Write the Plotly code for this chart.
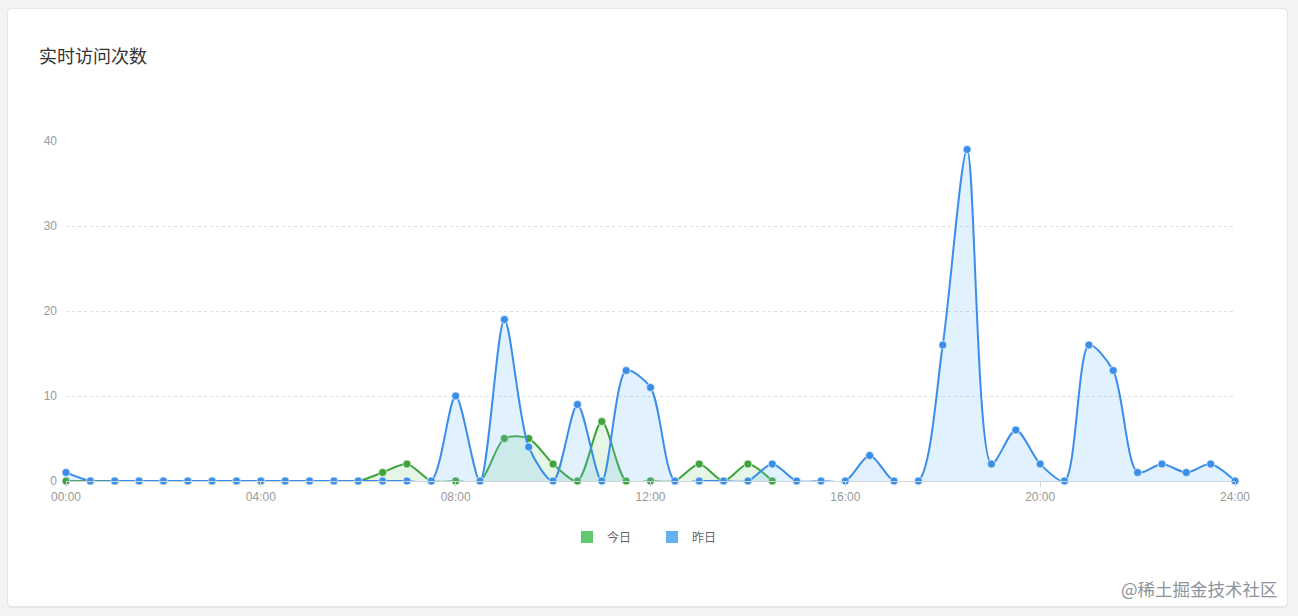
import plotly.graph_objects as go

# ---------------- data ----------------
hours = [0, 0.5, 1, 1.5, 2, 2.5, 3, 3.5, 4, 4.5, 5, 5.5, 6, 6.5, 7, 7.5,
         8, 8.5, 9, 9.5, 10, 10.5, 11, 11.5, 12, 12.5, 13, 13.5, 14, 14.5,
         15, 15.5, 16, 16.5, 17, 17.5, 18, 18.5, 19, 19.5, 20, 20.5, 21,
         21.5, 22, 22.5, 23, 23.5, 24]

today = [0, 0, 0, 0, 0, 0, 0, 0, 0, 0, 0, 0, 0, 1, 2, 0,
         0, 0, 5, 5, 2, 0, 7, 0, 0, 0, 2, 0, 2, 0]

yesterday = [1, 0, 0, 0, 0, 0, 0, 0, 0, 0, 0, 0, 0, 0, 0, 0,
             10, 0, 19, 4, 0, 9, 0, 13, 11, 0, 0, 0, 0, 2,
             0, 0, 0, 3, 0, 0, 16, 39, 2, 6, 2, 0, 16,
             13, 1, 2, 1, 2, 0]

tick_vals = [0, 4, 8, 12, 16, 20, 24]
tick_text = ["00:00", "04:00", "08:00", "12:00", "16:00", "20:00", "24:00"]
y_ticks = [0, 10, 20, 30, 40]

title_text = "实时访问次数"
legend_names = ["今日", "昨日"]
watermark = "@稀土掘金技术社区"

# ---------------- styles ----------------
FONT = "Noto Sans CJK SC, Noto Sans, sans-serif"
TICK_FONT = "Liberation Sans, Arial, sans-serif"
GREEN_LINE = "#3ea33a"
GREEN_FILL = "rgba(110,205,120,0.18)"
GREEN_LEG = "#5fc96c"
BLUE_LINE = "#3a8ee8"
BLUE_FILL = "rgba(120,190,245,0.22)"
BLUE_LEG = "#63b1f1"
PAGE_BG = "#f3f4f6"

W, H = 1298, 616
ML, MR, MT, MB = 66, 63, 141, 135
PW = W - ML - MR
PH = H - MT - MB


def px2x(px):
    return (px - ML) / PW


def py2y(py):
    return (H - MB - py) / PH


fig = go.Figure()

fig.add_trace(go.Scatter(
    x=hours[:len(today)], y=today, mode="lines+markers",
    line=dict(color=GREEN_LINE, width=2, shape="spline", smoothing=0.8),
    marker=dict(color=GREEN_LINE, size=8, line=dict(color="rgba(255,255,255,0.6)", width=1)),
    fill="tozeroy", fillcolor=GREEN_FILL, showlegend=False, cliponaxis=False,
    name=legend_names[0],
))
fig.add_trace(go.Scatter(
    x=hours, y=yesterday, mode="lines+markers",
    line=dict(color=BLUE_LINE, width=2, shape="spline", smoothing=0.8),
    marker=dict(color=BLUE_LINE, size=8, line=dict(color="rgba(255,255,255,0.6)", width=1)),
    fill="tozeroy", fillcolor=BLUE_FILL, showlegend=False, cliponaxis=False,
    name=legend_names[1],
))

# legend proxies
for nm, col in zip(legend_names, [GREEN_LEG, BLUE_LEG]):
    fig.add_trace(go.Scatter(
        x=[None], y=[None], mode="markers", name=nm,
        marker=dict(symbol="square", size=10, color=col),
    ))


def rounded(px0, py0, px1, py1, r=4):
    x0, x1 = px2x(px0), px2x(px1)
    y0, y1 = py2y(py1), py2y(py0)
    rx, ry = r / PW, r / PH
    return (
        f"M {x0+rx},{y0} L {x1-rx},{y0} Q {x1},{y0} {x1},{y0+ry} "
        f"L {x1},{y1-ry} Q {x1},{y1} {x1-rx},{y1} L {x0+rx},{y1} "
        f"Q {x0},{y1} {x0},{y1-ry} L {x0},{y0+ry} Q {x0},{y0} {x0+rx},{y0} Z"
    )


fig.add_shape(type="path", path=rounded(7, 8, 1288, 608, 5), xref="paper", yref="paper",
              fillcolor="#e4e6ea", line=dict(width=0), layer="below")
fig.add_shape(type="path", path=rounded(8, 9, 1287, 606, 4), xref="paper", yref="paper",
              fillcolor="#ffffff", line=dict(width=0), layer="below")

fig.add_annotation(text=title_text, xref="paper", yref="paper",
                   x=px2x(37), y=py2y(55), xanchor="left", yanchor="middle",
                   showarrow=False, font=dict(family=FONT, size=18, color="#333333"))
fig.add_annotation(text=watermark, xref="paper", yref="paper",
                   x=px2x(1280), y=py2y(588), xanchor="right", yanchor="middle",
                   showarrow=False, font=dict(family=FONT, size=17.5, color="#8e939b"))

fig.update_layout(
    width=W, height=H,
    margin=dict(l=ML, r=MR, t=MT, b=MB),
    paper_bgcolor=PAGE_BG,
    plot_bgcolor="rgba(0,0,0,0)",
    font=dict(family=FONT, size=12, color="#999999"),
    legend=dict(orientation="h", x=px2x(567), xanchor="left", y=py2y(537), yanchor="middle",
                font=dict(family=FONT, size=12, color="#666666"),
                itemsizing="constant", itemwidth=30, bgcolor="rgba(0,0,0,0)",
                entrywidth=40, entrywidthmode="pixels",
                tracegroupgap=0),
    xaxis=dict(range=[0, 24], tickvals=tick_vals, ticktext=tick_text,
               showgrid=False, zeroline=False, showline=True, linecolor="#cfd3da",
               linewidth=1, ticks="outside", ticklen=5, tickcolor="#cfd3da",
               tickfont=dict(family=TICK_FONT, size=12, color="#9a9a9a")),
    yaxis=dict(range=[0, 40], tickvals=y_ticks, showgrid=True,
               gridcolor="#dadee6", griddash="dot", gridwidth=1,
               zeroline=False, showline=False, ticks="", ticklabelstandoff=8,
               tickfont=dict(family=TICK_FONT, size=12, color="#9a9a9a")),
    hovermode="x",
)

fig.write_html(
    "out.html",
    config={"displayModeBar": False},
    post_script="document.body.style.margin='0';document.body.style.background='%s';" % PAGE_BG,
)
